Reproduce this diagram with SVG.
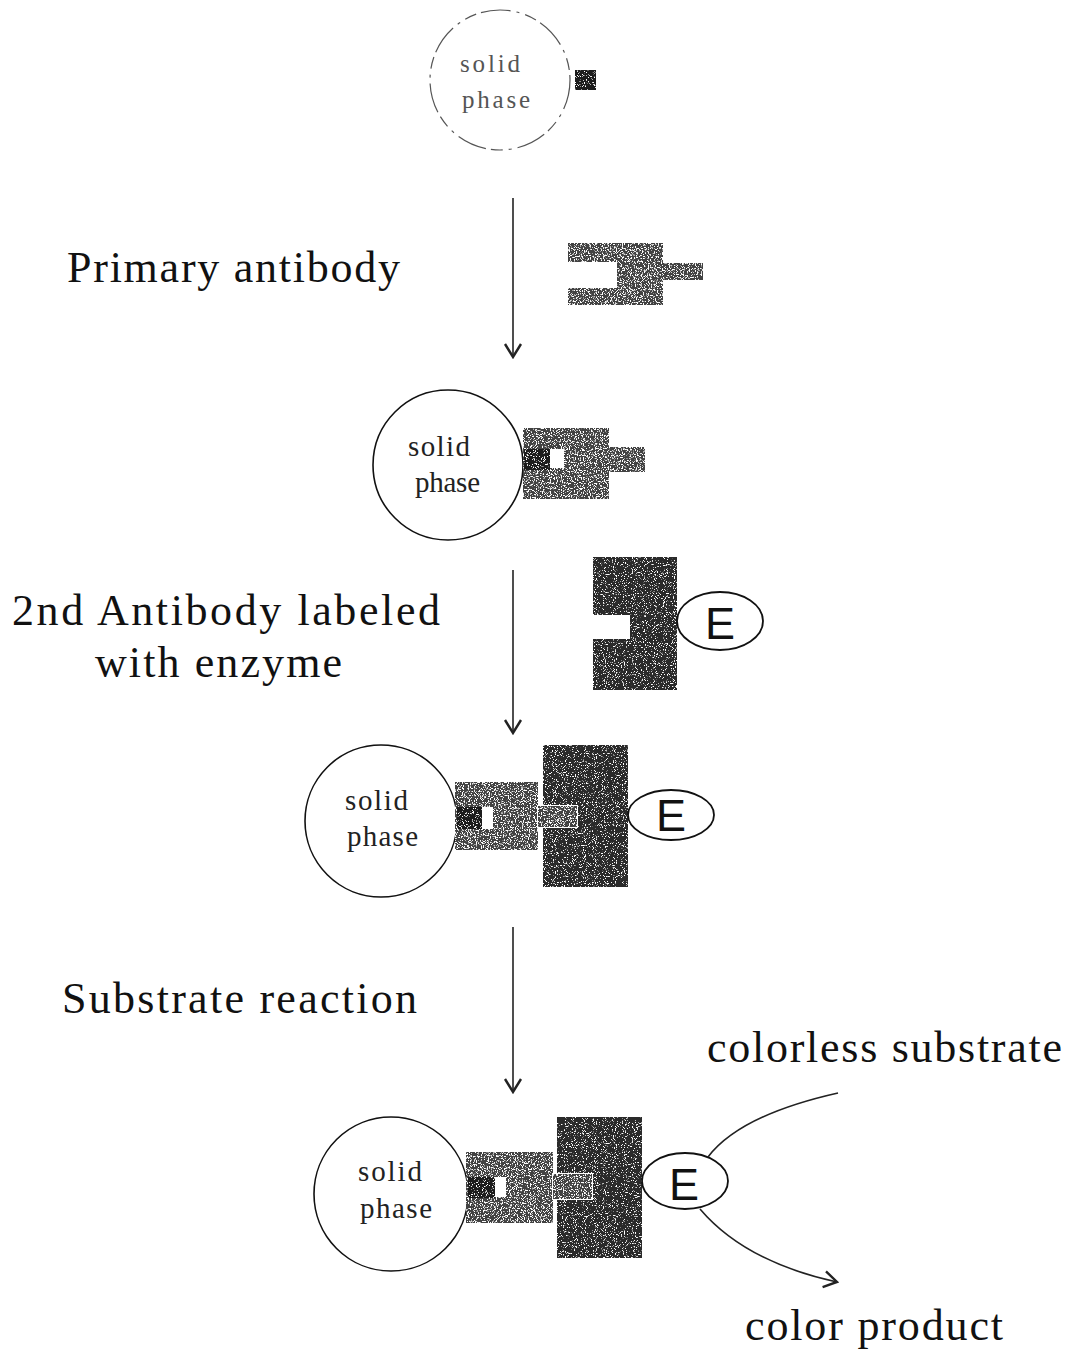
<svg xmlns="http://www.w3.org/2000/svg" width="1070" height="1355" viewBox="0 0 1070 1355">
  <defs>
    <style>
      .lbl { font-family: "Liberation Serif", "Times New Roman", serif; font-size: 44px; fill: #111; }
      .sp { font-family: "Liberation Serif", "Times New Roman", serif; font-size: 29px; fill: #222; }
      .sp0 { font-family: "Liberation Serif", "Times New Roman", serif; font-size: 25px; fill: #555; }
      .enz { font-family: "Liberation Sans", Arial, sans-serif; font-size: 45px; fill: #111; text-anchor: middle; }
      .bead { fill: #fff; stroke: #111; stroke-width: 1.6; }
      .enzy { fill: #fff; stroke: #111; stroke-width: 1.8; }
      .ab1 { fill: #424242; filter: url(#grainLight); }
      .ab2 { fill: #2a2a2a; filter: url(#grainDark); }
      .ag { fill: #1e1e1e; filter: url(#grainDark); }
      .gap { fill: #fff; }
      .flow { stroke: #222; stroke-width: 1.6; fill: none; marker-end: url(#vee); }
    </style>
    <!-- speckled texture for the antibody blocks -->
    <filter id="grainLight" x="0" y="0" width="1" height="1">
      <feTurbulence type="fractalNoise" baseFrequency="0.85" numOctaves="2" seed="4" result="n"/>
      <feColorMatrix in="n" type="matrix" values="0 0 0 0 1  0 0 0 0 1  0 0 0 0 1  10 0 0 0 -5.4" result="spk"/>
      <feComposite in="spk" in2="SourceGraphic" operator="atop"/>
    </filter>
    <filter id="grainDark" x="0" y="0" width="1" height="1">
      <feTurbulence type="fractalNoise" baseFrequency="0.9" numOctaves="2" seed="9" result="n"/>
      <feColorMatrix in="n" type="matrix" values="0 0 0 0 1  0 0 0 0 1  0 0 0 0 1  10 0 0 0 -6.0" result="spk"/>
      <feComposite in="spk" in2="SourceGraphic" operator="atop"/>
    </filter>
    <!-- open V arrowhead -->
    <marker id="vee" viewBox="0 0 20 20" refX="18" refY="10" markerWidth="20" markerHeight="20" markerUnits="userSpaceOnUse" orient="auto">
      <path d="M5,2 L18,10 L5,18" fill="none" stroke="#222" stroke-width="2.4"/>
    </marker>
  </defs>

  <!-- step labels -->
  <g id="labels">
    <text class="lbl" x="67" y="282" textLength="333" lengthAdjust="spacing">Primary antibody</text>
    <text class="lbl" x="12" y="625" textLength="428" lengthAdjust="spacing">2nd Antibody labeled</text>
    <text class="lbl" x="95" y="677" textLength="247" lengthAdjust="spacing">with enzyme</text>
    <text class="lbl" x="62" y="1013" textLength="355" lengthAdjust="spacing">Substrate reaction</text>
    <text class="lbl" x="707" y="1062" textLength="355" lengthAdjust="spacing">colorless substrate</text>
    <text class="lbl" x="745" y="1340" textLength="258" lengthAdjust="spacing">color product</text>
  </g>

  <!-- solid phase with bound antigen -->
  <g id="bead-antigen">
    <circle cx="500" cy="80" r="70" fill="none" stroke="#555" stroke-width="1.2" stroke-dasharray="30 6 3 6 12 5"/>
    <text class="sp0" x="460" y="72" textLength="60" lengthAdjust="spacing">solid</text>
    <text class="sp0" x="462" y="108" textLength="68" lengthAdjust="spacing">phase</text>
    <rect class="ag" x="575" y="70" width="21" height="20"/>
  </g>

  <!-- free primary antibody -->
  <g id="primary-antibody">
    <path class="ab1" d="M568,243 H663 V263 H703 V280 H663 V305 H568 V288 H617 V262 H568 Z"/>
  </g>

  <!-- bead + antigen + primary antibody -->
  <g id="complex-1">
    <circle class="bead" cx="448" cy="465" r="75"/>
    <text class="sp" x="408" y="456" textLength="62" lengthAdjust="spacing">solid</text>
    <text class="sp" x="415" y="492" textLength="65" lengthAdjust="spacing">phase</text>
    <path class="ab1" d="M523,428 H609 V447 H645 V472 H609 V499 H523 Z"/>
    <rect class="ag" x="524" y="449" width="26" height="21"/>
    <rect class="gap" x="550" y="449" width="14" height="19"/>
  </g>

  <!-- free enzyme-labelled secondary antibody -->
  <g id="secondary-antibody">
    <path class="ab2" d="M593,557 H677 V690 H593 V639 H630 V615 H593 Z"/>
    <ellipse class="enzy" cx="720" cy="621" rx="43" ry="29"/>
    <text class="enz" x="720" y="639">E</text>
  </g>

  <!-- full sandwich -->
  <g id="complex-2">
    <circle class="bead" cx="381" cy="821" r="76"/>
    <text class="sp" x="345" y="810" textLength="63" lengthAdjust="spacing">solid</text>
    <text class="sp" x="347" y="846" textLength="71" lengthAdjust="spacing">phase</text>
    <rect class="ab2" x="543" y="745" width="85" height="142"/>
    <rect class="ab1" x="455" y="782" width="83" height="68"/>
    <rect class="ab1" x="537" y="805" width="41" height="23" stroke="#fff" stroke-width="2"/>
    <rect class="ag" x="457" y="807" width="25" height="22"/>
    <rect class="gap" x="482" y="807" width="11" height="22"/>
    <ellipse class="enzy" cx="671" cy="815" rx="43" ry="25"/>
    <text class="enz" x="671" y="831">E</text>
  </g>

  <!-- sandwich converting substrate -->
  <g id="complex-3">
    <circle class="bead" cx="391" cy="1194" r="77"/>
    <text class="sp" x="358" y="1181" textLength="64" lengthAdjust="spacing">solid</text>
    <text class="sp" x="360" y="1218" textLength="72" lengthAdjust="spacing">phase</text>
    <rect class="ab2" x="557" y="1117" width="85" height="141"/>
    <rect class="ab1" x="466" y="1152" width="87" height="71"/>
    <line x1="555" y1="1152" x2="555" y2="1174" stroke="#fff" stroke-width="2"/>
    <rect class="ab1" x="552" y="1173" width="41" height="27" stroke="#fff" stroke-width="2"/>
    <rect class="ag" x="468" y="1177" width="27" height="21"/>
    <rect class="gap" x="495" y="1177" width="11" height="20"/>
    <ellipse class="enzy" cx="685" cy="1181" rx="43" ry="28"/>
    <text class="enz" x="684" y="1200">E</text>
  </g>

  <!-- process arrows -->
  <g id="connectors">
    <line class="flow" x1="513" y1="198" x2="513" y2="357"/>
    <line class="flow" x1="513" y1="570" x2="513" y2="733"/>
    <line class="flow" x1="513" y1="927" x2="513" y2="1092"/>
    <path d="M708,1157 Q740,1115 838,1093" fill="none" stroke="#222" stroke-width="1.6"/>
    <path class="flow" d="M700,1209 Q745,1262 837,1282"/>
  </g>
</svg>
